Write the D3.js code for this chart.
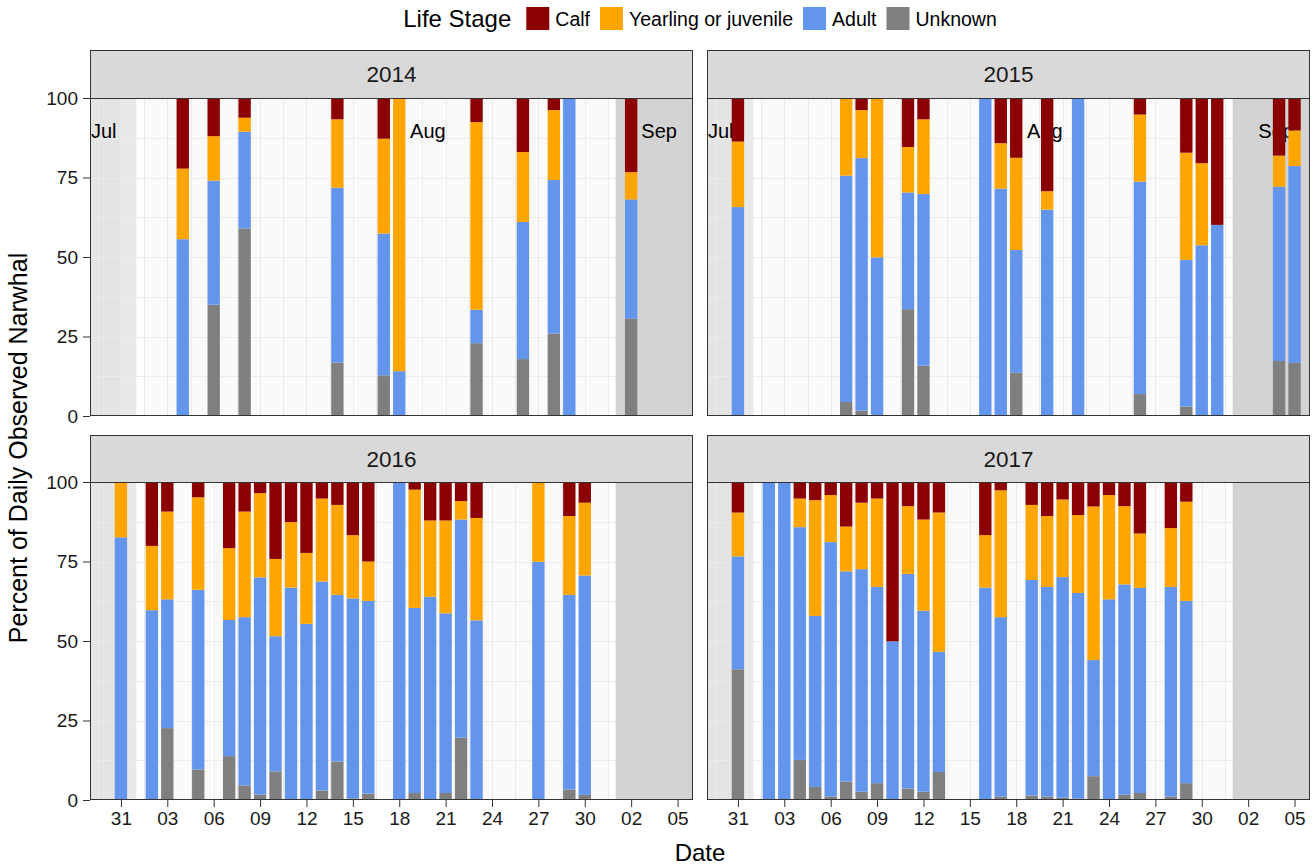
<!DOCTYPE html>
<html><head><meta charset="utf-8">
<script src="https://cdn.jsdelivr.net/npm/d3@7"></script>
<style>body{margin:0;background:#fff;} svg{display:block;font-family:"Liberation Sans",Arial,sans-serif;}</style>
</head><body><svg id="chart" width="1316" height="867"></svg>
<script>
// ---------------- DATA ----------------
const years = [2014, 2015, 2016, 2017];
const stageNames = ["Calf", "Yearling or juvenile", "Adult", "Unknown"];
const stageColors = ["#8B0000", "#FFA500", "#6495ED", "#7F7F7F"];
const xTickDates = ["07-31","08-03","08-06","08-09","08-12","08-15","08-18","08-21","08-24","08-27","08-30","09-02","09-05"];
const yTicks = [0, 25, 50, 75, 100];
const monthLabels = ["Jul", "Aug", "Sep"];
const monthLabelDates = ["07-29.06", "08-18.7", "09-02.66"];
const monthLabelYears = [2014, 2015];

const dates2014   = ["08-04","08-06","08-08","08-14","08-17","08-18","08-23","08-26","08-28","08-29","09-02"];
const unknown2014 = [0, 35, 59, 16.8, 12.8, 0, 22.9, 17.9, 25.9, 0, 30.6];
const adult2014   = [55.6, 39, 30.4, 55, 44.6, 14.1, 10.5, 43.1, 48.3, 100, 37.5];
const juv2014     = [22.2, 14, 4.4, 21.5, 29.8, 85.9, 59, 22, 22, 0, 8.6];
const calf2014    = [22.2, 12, 6.2, 6.7, 12.8, 0, 7.6, 17, 3.8, 0, 23.3];

const dates2015   = ["07-31","08-07","08-08","08-09","08-11","08-12","08-16","08-17","08-18","08-20","08-22","08-26","08-29","08-30","08-31","09-04","09-05"];
const unknown2015 = [0, 4.4, 1.7, 0, 33.6, 15.8, 0, 0, 13.6, 0, 0, 6.9, 3.0, 0, 0, 17.3, 16.7];
const adult2015   = [65.7, 71.2, 79.4, 49.9, 36.7, 54, 100, 71.5, 38.6, 64.9, 100, 66.8, 46.1, 53.7, 60.1, 54.8, 61.9];
const juv2015     = [20.6, 24.4, 15.1, 50.1, 14.3, 23.5, 0, 14.3, 29, 5.8, 0, 21.1, 33.7, 25.8, 0, 9.8, 11.2];
const calf2015    = [13.7, 0, 3.8, 0, 15.4, 6.7, 0, 14.2, 18.8, 29.3, 0, 5.2, 17.2, 20.5, 39.9, 18.1, 10.2];

const dates2016   = ["07-31","08-02","08-03","08-05","08-07","08-08","08-09","08-10","08-11","08-12","08-13","08-14","08-15","08-16","08-18","08-19","08-20","08-21","08-22","08-23","08-27","08-29","08-30"];
const unknown2016 = [0, 0, 22.6, 9.6, 13.8, 4.6, 1.7, 9.0, 0, 0, 3.0, 12.1, 0.5, 2.0, 0, 2.2, 0, 2.2, 19.6, 0, 0, 3.3, 1.6];
const adult2016   = [82.6, 59.7, 40.5, 56.5, 42.8, 52.9, 68.3, 42.5, 66.8, 55.4, 65.7, 52.4, 62.9, 60.6, 100, 58.2, 63.9, 56.5, 68.6, 56.5, 74.9, 61.2, 69];
const juv2016     = [17.4, 20.2, 27.6, 29.1, 22.6, 33.2, 26.5, 24.3, 20.6, 22.3, 26.1, 28.3, 19.9, 12.4, 0, 37.2, 24, 29.2, 5.8, 32.2, 25.1, 24.8, 22.9];
const calf2016    = [0, 20.1, 9.3, 4.8, 20.8, 9.3, 3.5, 24.2, 12.6, 22.3, 5.2, 7.2, 16.7, 25, 0, 2.4, 12.1, 12.1, 6.0, 11.3, 0, 10.7, 6.5];

const dates2017   = ["07-31","08-02","08-03","08-04","08-05","08-06","08-07","08-08","08-09","08-10","08-11","08-12","08-13","08-16","08-17","08-19","08-20","08-21","08-22","08-23","08-24","08-25","08-26","08-28","08-29"];
const unknown2017 = [41.1, 0, 0, 12.6, 4.1, 1.1, 5.8, 2.6, 5.3, 0, 3.6, 2.6, 8.8, 0, 1.1, 1.4, 1.1, 0.7, 0.4, 7.5, 0.2, 1.7, 2.2, 1.1, 5.3];
const adult2017   = [35.5, 100, 100, 73.2, 53.8, 80, 66.1, 70, 61.7, 49.9, 67.5, 56.9, 37.8, 66.8, 56.4, 67.8, 65.9, 69.4, 64.7, 36.5, 62.9, 66.1, 64.5, 65.9, 57.3];
const juv2017     = [13.8, 0, 0, 9.0, 36.4, 14.8, 14.1, 20.9, 27.8, 0, 21.3, 28.7, 43.8, 16.5, 39.9, 23.6, 22.3, 24.4, 24.5, 48.3, 32.8, 24.6, 17.1, 18.5, 31.2];
const calf2017    = [9.6, 0, 0, 5.2, 5.7, 4.1, 14, 6.5, 5.2, 50.1, 7.6, 11.8, 9.6, 16.7, 2.6, 7.2, 10.7, 5.5, 10.4, 7.7, 4.1, 7.6, 16.2, 14.5, 6.2];

// ---------------- HELPERS ----------------
const ref = s => { const [m, d] = s.split("-"); const dd = parseFloat(d); return new Date(new Date(2014, +m - 1, 1).getTime() + (dd - 1) * 864e5); };
const DAY = 864e5;
const seriesByYear = {
  2014: [dates2014, calf2014, juv2014, adult2014, unknown2014],
  2015: [dates2015, calf2015, juv2015, adult2015, unknown2015],
  2016: [dates2016, calf2016, juv2016, adult2016, unknown2016],
  2017: [dates2017, calf2017, juv2017, adult2017, unknown2017]
};
const layout = [
  {x0: 90,  x1: 693,  top: 50,  strip: 98,  bottom: 416, col: 0, row: 0},
  {x0: 707, x1: 1310, top: 50,  strip: 98,  bottom: 416, col: 1, row: 0},
  {x0: 90,  x1: 693,  top: 435, strip: 482, bottom: 800, col: 0, row: 1},
  {x0: 707, x1: 1310, top: 435, strip: 482, bottom: 800, col: 1, row: 1}
];
const svg = d3.select("#chart");
const stackKeys = ["Unknown", "Adult", "Yearling or juvenile", "Calf"];
const colorOf = d3.scaleOrdinal().domain(stageNames).range(stageColors);

years.forEach((yr, i) => {
  const L = layout[i];
  const [ds, calf, juv, adult, unk] = seriesByYear[yr];
  const rows = ds.map((d, j) => ({date: ref(d), "Calf": calf[j], "Yearling or juvenile": juv[j], "Adult": adult[j], "Unknown": unk[j]}));
  const x = d3.scaleTime().domain([ref("07-29"), ref("09-06")]).range([L.x0, L.x1]);
  const y = d3.scaleLinear().domain([0, 100]).range([L.bottom, L.strip]);
  const g = svg.append("g");
  const clipId = "clip" + yr;
  svg.append("clipPath").attr("id", clipId).append("rect")
    .attr("x", L.x0).attr("y", L.strip).attr("width", L.x1 - L.x0).attr("height", L.bottom - L.strip);
  const p = g.append("g").attr("clip-path", `url(#${clipId})`);
  p.append("rect").attr("x", L.x0).attr("y", L.strip).attr("width", L.x1 - L.x0).attr("height", L.bottom - L.strip).attr("fill", "#ffffff");
  const band = (a, b, fill) => p.append("rect")
    .attr("x", x(a)).attr("y", L.strip).attr("width", x(b) - x(a)).attr("height", L.bottom - L.strip).attr("fill", fill);
  band(ref("08-01.5"), ref("08-31.5"), "#fafafa");
  band(ref("07-29"), ref("07-31"), "#e4e4e4");
  band(ref("07-31"), ref("08-01"), "#e9e9e9");
  const vmaj = xTickDates.map(ref);
  const vmin = vmaj.map(d => new Date(d.getTime() - 1.5 * DAY));
  p.selectAll(".vg").data(vmaj.concat(vmin)).join("line")
    .attr("x1", d => Math.round(x(d)) + 0.5).attr("x2", d => Math.round(x(d)) + 0.5)
    .attr("y1", L.strip).attr("y2", L.bottom).attr("stroke", "#ebebeb").attr("stroke-width", 1);
  const hg = d3.range(0, 101, 12.5);
  p.selectAll(".hg").data(hg).join("line")
    .attr("x1", L.x0).attr("x2", L.x1)
    .attr("y1", d => Math.round(y(d)) + 0.5).attr("y2", d => Math.round(y(d)) + 0.5)
    .attr("stroke", "#ebebeb").attr("stroke-width", 1);
  band(ref("09-01"), ref("09-06"), "#d3d3d3");
  if (monthLabelYears.includes(yr)) {
    p.selectAll(".ml").data(monthLabels).join("text")
      .attr("x", (d, k) => x(ref(monthLabelDates[k])))
      .attr("y", y(89.5)).attr("dy", "0.35em")
      .attr("font-size", 20).attr("fill", "#000").text(d => d);
  }
  const stacked = d3.stack().keys(stackKeys)(rows);
  const bw = 0.8 * DAY;
  stacked.forEach(layer => {
    p.append("g").attr("fill", colorOf(layer.key)).selectAll("rect").data(layer).join("rect")
      .attr("x", d => x(new Date(d.data.date.getTime() - bw / 2)))
      .attr("width", d => x(new Date(d.data.date.getTime() + bw / 2)) - x(new Date(d.data.date.getTime() - bw / 2)))
      .attr("y", d => y(d[1]))
      .attr("height", d => Math.max(0, y(d[0]) - y(d[1])));
  });
  g.append("rect").attr("x", L.x0 + 0.5).attr("y", L.top + 0.5).attr("width", L.x1 - L.x0 - 1).attr("height", L.strip - L.top)
    .attr("fill", "#d9d9d9").attr("stroke", "#333333").attr("stroke-width", 1);
  g.append("text").attr("x", (L.x0 + L.x1) / 2).attr("y", (L.top + L.strip) / 2).attr("dy", "0.36em")
    .attr("text-anchor", "middle").attr("font-size", 22.5).attr("fill", "#1a1a1a").text(yr);
  g.append("rect").attr("x", L.x0 + 0.5).attr("y", L.top + 0.5).attr("width", L.x1 - L.x0 - 1).attr("height", L.bottom - L.top - 1)
    .attr("fill", "none").attr("stroke", "#333333").attr("stroke-width", 1);
  if (L.row === 1) {
    const ax = d3.axisBottom(x).tickValues(vmaj).tickFormat(d3.timeFormat("%d")).tickSize(7).tickPadding(5);
    const axg = g.append("g").attr("transform", `translate(0,${L.bottom})`).call(ax);
    axg.select(".domain").remove();
    axg.selectAll(".tick line").attr("stroke", "#333333");
    axg.selectAll("text").attr("font-size", 19).attr("fill", "#1a1a1a").attr("font-family", "Liberation Sans, Arial, sans-serif");
  }
  if (L.col === 0) {
    const ay = d3.axisLeft(y).tickValues(yTicks).tickSize(7).tickPadding(5);
    const ayg = g.append("g").attr("transform", `translate(${L.x0},0)`).call(ay);
    ayg.select(".domain").remove();
    ayg.selectAll(".tick line").attr("stroke", "#333333");
    ayg.selectAll("text").attr("font-size", 19).attr("fill", "#1a1a1a").attr("font-family", "Liberation Sans, Arial, sans-serif");
  }
});

svg.append("text").attr("x", 700).attr("y", 861).attr("text-anchor", "middle").attr("font-size", 24).attr("fill", "#000").text("Date");
svg.append("text").attr("transform", "translate(27,448) rotate(-90)").attr("text-anchor", "middle").attr("font-size", 25).attr("fill", "#000").text("Percent of Daily Observed Narwhal");

const lg = svg.append("g");
const title = lg.append("text").attr("x", 0).attr("y", 27).attr("font-size", 24).attr("fill", "#000").text("Life Stage");
let cx = title.node().getComputedTextLength() + 15;
stageNames.forEach((s, k) => {
  lg.append("rect").attr("x", cx).attr("y", 7).attr("width", 23).attr("height", 23).attr("fill", stageColors[k]);
  const t = lg.append("text").attr("x", cx + 29).attr("y", 26).attr("font-size", 19.5).attr("fill", "#000").text(s);
  cx += 29 + t.node().getComputedTextLength() + 10;
});
const lw = cx - 10;
lg.attr("transform", `translate(${700 - lw / 2},0)`);
</script></body></html>
